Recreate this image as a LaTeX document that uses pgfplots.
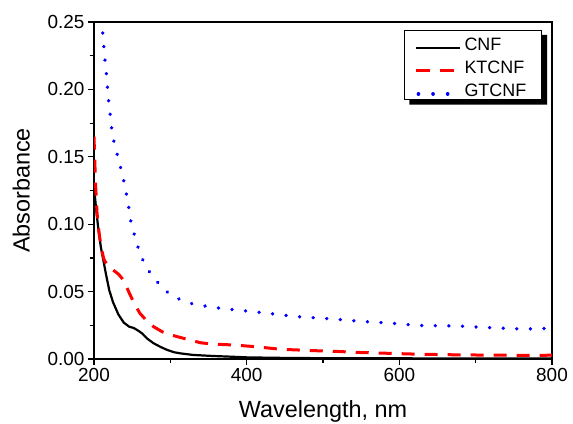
\documentclass[border=0pt]{standalone}
\usepackage{pgfplots}
\pgfplotsset{compat=1.18}
\usepackage{fontspec}
\setmainfont{Liberation Sans}

\begin{document}
\begin{tikzpicture}
\begin{axis}[
  scale only axis, width=458bp, height=337bp,
  xmin=200, xmax=800, ymin=0, ymax=0.25,
  xtick={200,400,600,800}, minor xtick={300,500,700},
  ytick={0,0.05,0.10,0.15,0.20,0.25},
  minor ytick={0.025,0.075,0.125,0.175,0.225},
  tick pos=left, tick align=outside,
  major tick length=6bp, minor tick length=4bp,
  every tick/.style={black, line width=1.2bp},
  axis line style={line width=1.5bp},
  /pgf/number format/assume math mode=true,
  yticklabel style={/pgf/number format/.cd, fixed, fixed zerofill, precision=2},
  scaled y ticks=false,
  tick label style={font=\fontsize{19}{22}\selectfont},
  label style={font=\fontsize{23.5}{28}\selectfont},
  xlabel={Wavelength, nm}, ylabel={Absorbance},
  xlabel style={at={(axis description cs:0.5,0)}, anchor=base, yshift=-58.5bp},
  ylabel style={at={(axis description cs:-0.159,0.5)}, anchor=center},
  legend cell align=left,
  legend style={name=leg, at={(1,1)}, anchor=north east, xshift=-10bp, yshift=-8bp,
    draw=black, line width=1bp, fill=white,
    font=\fontsize{18}{21}\selectfont,
    inner xsep=10bp, inner ysep=3bp, row sep=6.3bp, column sep=3bp,
    nodes={inner sep=0bp, text height=16.7bp, text depth=0bp, text width=67bp}},
  legend image code/.code={\path[draw=none,fill=none] (0bp,0bp) -- (44bp,0bp); \draw[#1] (0bp,-6bp) -- (44bp,-6bp);},
]
\coordinate (sw) at (rel axis cs:0,0);
\coordinate (ne) at (rel axis cs:1,1);

\addplot[black, line width=2.2bp] coordinates {
(200,0.128) (203,0.11) (206,0.095) (209,0.083) (212,0.074) (216,0.062) (220,0.051)
(225,0.042) (232,0.033) (239,0.027) (246,0.024) (252,0.023) (258,0.021) (263,0.019)
(270,0.015) (278,0.0117) (287,0.009) (296,0.0067) (305,0.005) (313,0.0042) (330,0.003)
(357,0.0022) (380,0.0017) (401,0.0012) (450,0.0008) (500,0.0006) (600,0.0005)
(700,0.0004) (800,0.0004)};
\addlegendentry{CNF}

\addplot[red, line width=3bp, dash pattern=on 13bp off 10bp,
  legend image code/.code={\path[draw=none,fill=none] (0bp,0bp) -- (44bp,0bp); \draw[red, fill=none, line width=3bp, dash pattern=on 14bp off 10bp] (0bp,-6bp) -- (38bp,-6bp);}] coordinates {
(200,0.165) (202,0.13) (204,0.108) (207,0.092) (210,0.081) (213,0.074) (218,0.069)
(225,0.066) (232,0.063) (238,0.059) (243,0.053) (247,0.048) (253,0.041) (260,0.034)
(268,0.029) (278,0.024) (290,0.020) (300,0.018) (313,0.016) (326,0.014) (340,0.012)
(357,0.011) (383,0.0104) (410,0.0092) (445,0.0072) (488,0.0062) (519,0.0056)
(550,0.0048) (587,0.0042) (616,0.0037) (660,0.0032) (712,0.0029) (760,0.0027) (800,0.0028)};
\addlegendentry{KTCNF}

\addplot[blue, line width=3.6bp, line cap=round, dash pattern=on 0.1bp off 13.5bp,
  legend image code/.code={\path[draw=none,fill=none] (0bp,0bp) -- (44bp,0bp); \draw[blue, fill=none, line width=3.6bp, line cap=round, dash pattern=on 0.1bp off 14.5bp] (2bp,-6bp) -- (32bp,-6bp);}] coordinates {
(209,0.262) (211.4,0.242) (213,0.231) (214.5,0.221) (216.7,0.209) (218,0.199)
(219.7,0.188) (222,0.178) (224,0.166) (228.5,0.156) (233,0.146) (237.6,0.136)
(241.6,0.125) (245,0.115) (247,0.105) (252,0.094) (257,0.084) (263.6,0.074)
(271,0.066) (281.6,0.058) (291,0.052) (302,0.047) (315,0.0435) (328.5,0.041)
(341.7,0.0396) (366,0.0376) (396,0.0358) (427,0.034) (462,0.0316) (497,0.0303)
(515,0.0296) (550,0.0279) (589,0.0266) (624,0.0249) (677,0.0245) (712,0.0234)
(764,0.0222) (790,0.0226) (800,0.0232)};
\addlegendentry{GTCNF}
\end{axis}
\fill[black] ([yshift=-5bp]leg.north east) -- ([shift={(5bp,-5bp)}]leg.north east)
  -- ([shift={(5bp,-5bp)}]leg.south east) -- ([shift={(5bp,-5bp)}]leg.south west)
  -- ([xshift=5bp]leg.south west) -- (leg.south east) -- cycle;
\pgfresetboundingbox
\useasboundingbox ([shift={(-94bp,-65bp)}]sw) rectangle ([shift={(21bp,22bp)}]ne);
\end{tikzpicture}
\end{document}
